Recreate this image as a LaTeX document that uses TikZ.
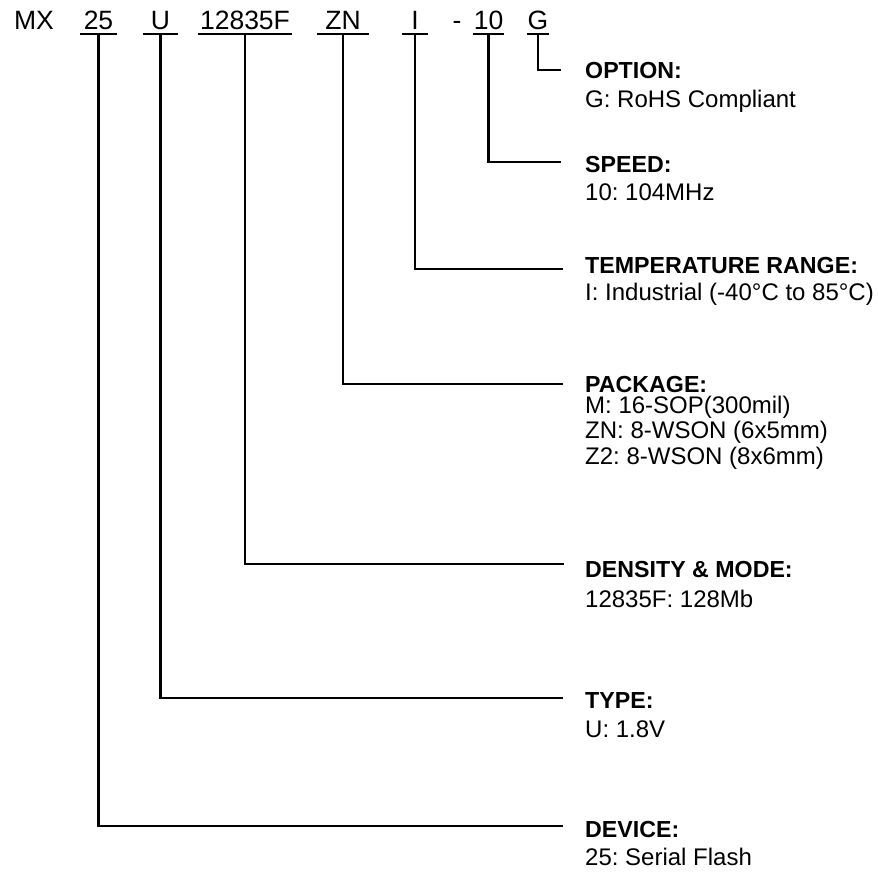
\documentclass[tikz,border=0pt]{standalone}
\usepackage{fontspec}
\setmainfont{Liberation Sans}
\frenchspacing
\begin{document}
\begin{tikzpicture}[x=1pt,y=-1pt,
  part/.style={font=\fontsize{26.5}{28}\selectfont, inner xsep=0pt, inner ysep=5pt, text depth=0pt, anchor=base},
  ttl/.style={font=\fontsize{23.2}{28}\selectfont\bfseries, anchor=base west, inner sep=0pt},
  desc/.style={font=\fontsize{24}{28}\selectfont, anchor=base west, inner sep=0pt},
  conn/.style={line width=2.2pt, line cap=rect},
  uline/.style={line width=2.2pt}]
\useasboundingbox (0,0) rectangle (878,871);
% part number row
\node[part] (pMX) at (34,29) {MX};
\node[part, minimum width=37pt] (p25) at (98.5,29) {25};
\node[part, minimum width=35pt] (pU) at (160.5,29) {U};
\node[part, minimum width=94pt] (pD) at (245,29) {12835F};
\node[part, minimum width=52pt] (pZN) at (343,29) {ZN};
\node[part, minimum width=26pt] (pI) at (415,29) {I};
\node[part] (pdash) at (457,29) {-};
\node[part, minimum width=31pt] (p10) at (488.5,29) {10};
\node[part, minimum width=22pt] (pG) at (538,29) {G};
\foreach \n in {p25,pU,pD,pZN,pI,p10,pG}
  \draw[uline] (\n.south west) -- (\n.south east);
% labels
\node[ttl] (tOpt) at (585,78) {OPTION:};
\node[desc] (dOpt) at (585,107) {G: RoHS Compliant};
\node[ttl] (tSpd) at (585,172) {SPEED:};
\node[desc] (dSpd) at (585,200) {10: 104MHz};
\node[ttl] (tTmp) at (585,273) {TEMPERATURE RANGE:};
\node[desc] (dTmp) at (585,300) {I: Industrial (-40°C to 85°C)};
\node[ttl] (tPkg) at (585,392) {PACKAGE:};
\node[desc, text height=15pt] (dPkg1) at (585,413) {M: 16-SOP(300mil)};
\node[desc] (dPkg2) at (585,438) {ZN: 8-WSON (6x5mm)};
\node[desc] (dPkg3) at (585,464) {Z2: 8-WSON (8x6mm)};
\node[ttl] (tDen) at (585,577) {DENSITY \& MODE:};
\node[desc] (dDen) at (585,607) {12835F: 128Mb};
\node[ttl] (tTyp) at (585,708) {TYPE:};
\node[desc] (dTyp) at (585,737) {U: 1.8V};
\node[ttl] (tDev) at (585,837) {DEVICE:};
\node[desc] (dDev) at (585,865) {25: Serial Flash};
% connector ends
\coordinate (eOpt) at (560,70);
\coordinate (eSpd) at (560,162);
\coordinate (eTmp) at (562,269);
\coordinate (ePkg) at (562,384);
\coordinate (eDen) at (563,564);
\coordinate (eTyp) at (562,698);
\coordinate (eDev) at (562,826);
% connectors
\draw[conn] (pG.south) |- (eOpt);
\draw[conn] (p10.south) |- (eSpd);
\draw[conn] (pI.south) |- (eTmp);
\draw[conn] (pZN.south) |- (ePkg);
\draw[conn] (pD.south) |- (eDen);
\draw[conn] (pU.south) |- (eTyp);
\draw[conn] (p25.south) |- (eDev);
\end{tikzpicture}
\end{document}
